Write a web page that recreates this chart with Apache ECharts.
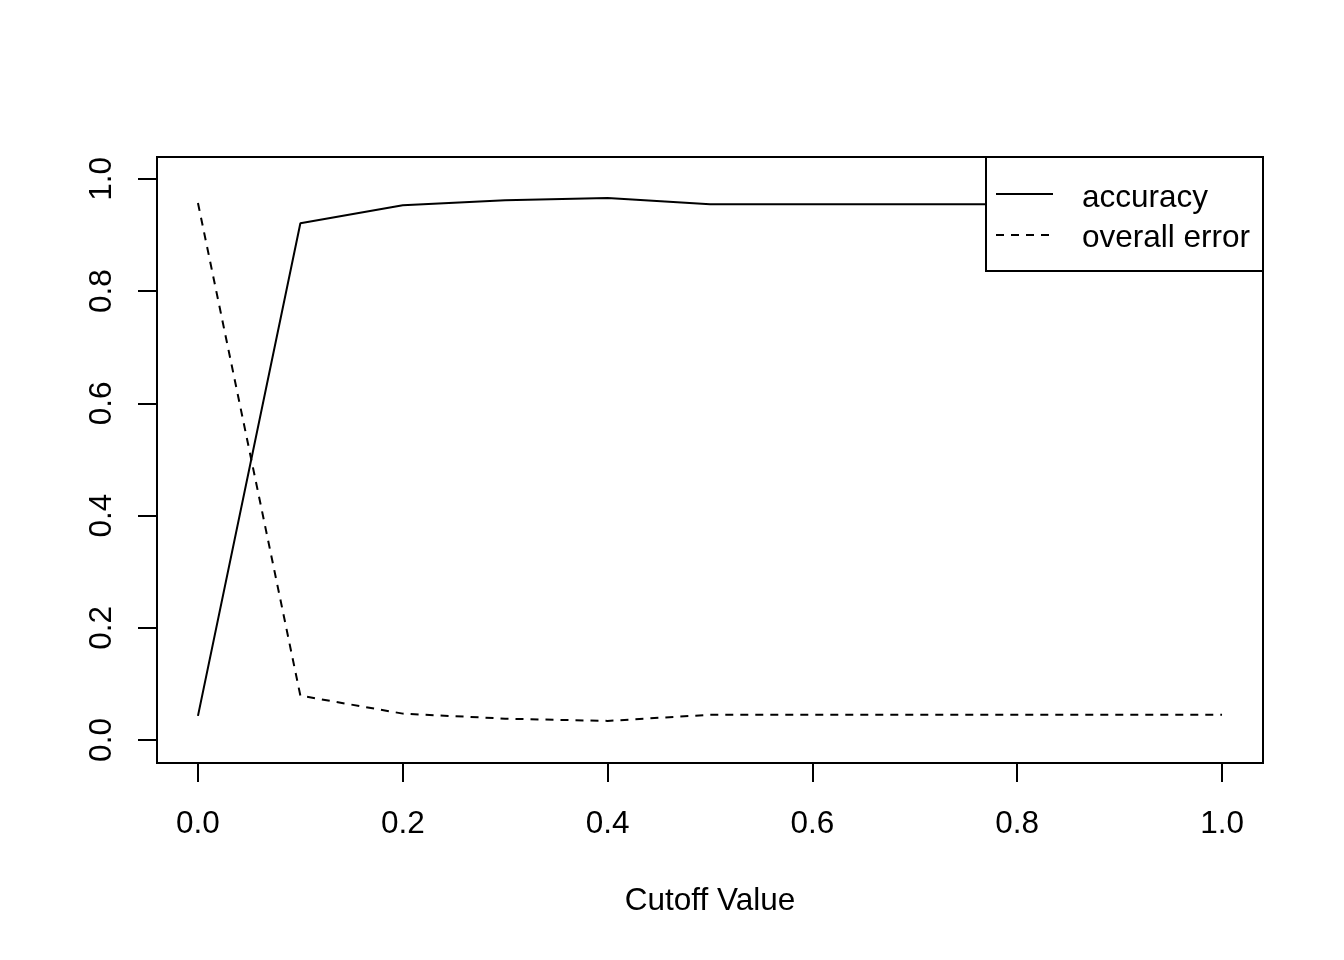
<!DOCTYPE html>
<html>
<head>
<meta charset="utf-8">
<title>Cutoff Value</title>
<script src="https://cdn.jsdelivr.net/npm/echarts@6/dist/echarts.min.js"></script>
<style>
  html, body { margin: 0; padding: 0; background: #fff; }
  #chart { width: 1344px; height: 960px; }
</style>
</head>
<body>
<div id="chart"></div>
<script>
// data
const cutoffs = [0, 0.1, 0.2, 0.3, 0.4, 0.5, 0.6, 0.7, 0.8, 0.9, 1.0];
const accuracy = [0.043, 0.921, 0.953, 0.962, 0.966, 0.955, 0.955, 0.955, 0.955, 0.955, 0.955];
const overallError = [0.957, 0.079, 0.047, 0.038, 0.034, 0.045, 0.045, 0.045, 0.045, 0.045, 0.045];
const tickValues = [0, 0.2, 0.4, 0.6, 0.8, 1.0];

const font = 'Liberation Sans, Arial, sans-serif';
const fs = 31.5;

const pairs = (ys) => cutoffs.map((x, i) => [x, ys[i]]);

const chart = echarts.init(document.getElementById('chart'));

chart.setOption({
  animation: false,
  backgroundColor: '#fff',
  grid: {
    left: 157, top: 157, width: 1106, height: 606,
    show: true, borderColor: '#000', borderWidth: 2, backgroundColor: 'transparent'
  },
  xAxis: {
    type: 'value',
    min: -0.04, max: 1.04,
    name: 'Cutoff Value',
    nameLocation: 'middle',
    nameGap: 122,
    nameTextStyle: { color: '#000', fontSize: fs, fontFamily: font },
    axisLine: { show: false, onZero: false },
    splitLine: { show: false },
    axisTick: { show: true, length: 19, customValues: tickValues, lineStyle: { color: '#000', width: 2 } },
    axisLabel: {
      customValues: tickValues, margin: 45,
      color: '#000', fontSize: fs, fontFamily: font,
      formatter: v => v.toFixed(1)
    }
  },
  yAxis: {
    type: 'value',
    min: -0.041, max: 1.039,
    axisLine: { show: false, onZero: false },
    splitLine: { show: false },
    axisTick: { show: true, length: 19, customValues: tickValues, lineStyle: { color: '#000', width: 2 } },
    axisLabel: {
      customValues: tickValues, margin: 39, rotate: 90,
      color: '#000', fontSize: fs, fontFamily: font,
      formatter: v => v.toFixed(1)
    }
  },
  series: [
    {
      name: 'accuracy', type: 'line', data: pairs(accuracy),
      symbol: 'none', lineStyle: { color: '#000', width: 2 }
    },
    {
      name: 'overall error', type: 'line', data: pairs(overallError),
      symbol: 'none', lineStyle: { color: '#000', width: 2, type: [8, 7] }
    }
  ],
  // legend box like R's legend("topright")
  graphic: [
    { type: 'rect', z: 100, shape: { x: 986, y: 157, width: 277, height: 114 },
      style: { fill: '#fff', stroke: '#000', lineWidth: 2 } },
    { type: 'line', z: 101, shape: { x1: 996, y1: 194, x2: 1053, y2: 194 },
      style: { stroke: '#000', lineWidth: 2 } },
    { type: 'line', z: 101, shape: { x1: 996, y1: 235, x2: 1053, y2: 235 },
      style: { stroke: '#000', lineWidth: 2, lineDash: [8, 7] } },
    { type: 'text', z: 101, x: 1082, y: 198,
      style: { text: 'accuracy', fill: '#000', fontSize: fs, fontFamily: font, verticalAlign: 'middle' } },
    { type: 'text', z: 101, x: 1082, y: 238,
      style: { text: 'overall error', fill: '#000', fontSize: fs, fontFamily: font, verticalAlign: 'middle' } }
  ]
});
</script>
</body>
</html>
